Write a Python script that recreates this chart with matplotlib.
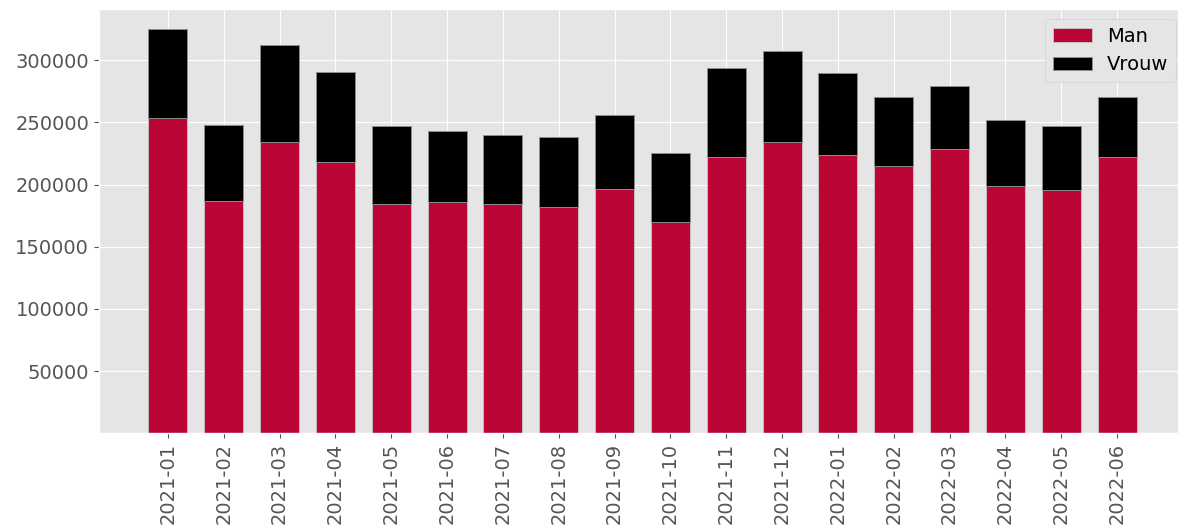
import matplotlib
matplotlib.use("Agg")
import matplotlib.pyplot as plt
import numpy as np

plt.style.use("ggplot")

# maand labels
maanden = ["2021-01", "2021-02", "2021-03", "2021-04", "2021-05", "2021-06",
           "2021-07", "2021-08", "2021-09", "2021-10", "2021-11", "2021-12",
           "2022-01", "2022-02", "2022-03", "2022-04", "2022-05", "2022-06"]

man = [253600, 186700, 234300, 218500, 184800, 185900,
       184800, 182200, 196100, 169600, 222300, 234000,
       224200, 215100, 228700, 198500, 195500, 222300]
totaal = [325000, 248000, 312200, 290800, 246900, 243200,
          240200, 238400, 255700, 225200, 293700, 307100,
          290000, 270700, 279000, 252200, 247200, 270500]
vrouw = [t - m for t, m in zip(totaal, man)]

yticks = [50000, 100000, 150000, 200000, 250000, 300000]

fig = plt.figure(figsize=(11.78, 5.30), dpi=100)
ax = fig.add_axes([0.084, 0.1825, 0.9228, 0.8005])

x = np.arange(len(maanden))
ax.bar(x, man, width=0.7, color="#ba0535", edgecolor="#c8c8c8", linewidth=0.6, label="Man")
ax.bar(x, vrouw, width=0.7, bottom=man, color="black", edgecolor="#909090", linewidth=0.6, label="Vrouw")

ax.set_xticks(x)
ax.set_xticklabels(maanden, rotation=90)
ax.set_yticks(yticks)
ax.set_yticklabels([str(v) for v in yticks])
ax.tick_params(labelsize=14, colors="#555555")

ax.legend(loc="upper right", fontsize=14)

plt.savefig("out.png", dpi=100)
